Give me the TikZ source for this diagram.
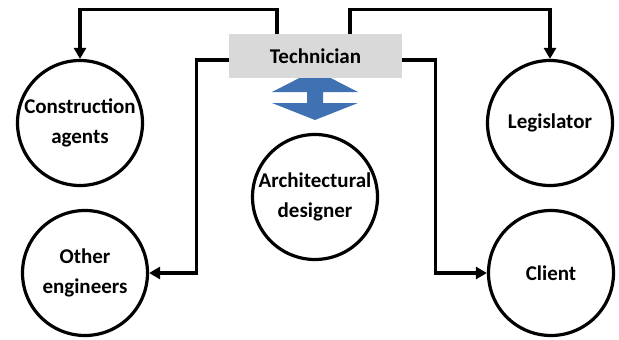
\documentclass[tikz,border=0pt]{standalone}
\usepackage{fontspec}
\setmainfont{Carlito}
\usepackage{xcolor}
\usepackage{tikz}
\usetikzlibrary{arrows.meta, positioning, calc}

\definecolor{boxgray}{HTML}{D9D9D9}
\definecolor{arrowblue}{HTML}{3F71B3}

\begin{document}
\begin{tikzpicture}[x=1pt, y=-1pt,
	party/.style={draw, circle, line width=3.2pt, minimum size=125pt, inner sep=0pt, align=center, font=\bfseries\fontsize{21}{30}\selectfont},
	link/.style={line width=3.2pt, -{Triangle[length=11pt, width=12pt]}},
	role/.style={fill=boxgray, minimum width=173pt, minimum height=44pt, inner sep=0pt, font=\bfseries\fontsize{21}{24}\selectfont}]

	\useasboundingbox (0,0) rectangle (619,340);

	% stakeholder circles
	\foreach \nm/\x/\y/\txt in {
		agents/80/123/{Construction\\agents},
		engineers/85/273/{Other\\engineers},
		designer/315/197/{Architectural\\designer},
		legis/550/123/{Legislator},
		client/551/273/{Client}} {
		\node[party] (\nm) at (\x,\y) {\txt};
	}

	% double arrow to the designer
	\fill[arrowblue] (272,92) -- (315,70) -- (358,92) -- (323,92) -- (323,103) -- (358,103)
		-- (315,120) -- (272,103) -- (307,103) -- (307,92) -- cycle;

	% technician box
	\node[role] (tech) at (315.5,56) {Technician};

	% connectors
	\draw[link] ([xshift=-38.5pt]tech.north) -- ++(0,-24) -| (agents.north);
	\draw[link] ([xshift=34.5pt]tech.north) -- ++(0,-24) -| (legis.north);
	\draw[link] ([yshift=-4pt]tech.west) -- ++(-32,0) |- (engineers.east);
	\draw[link] ([yshift=-4pt]tech.east) -- ++(33,0) |- (client.west);

\end{tikzpicture}
\end{document}
